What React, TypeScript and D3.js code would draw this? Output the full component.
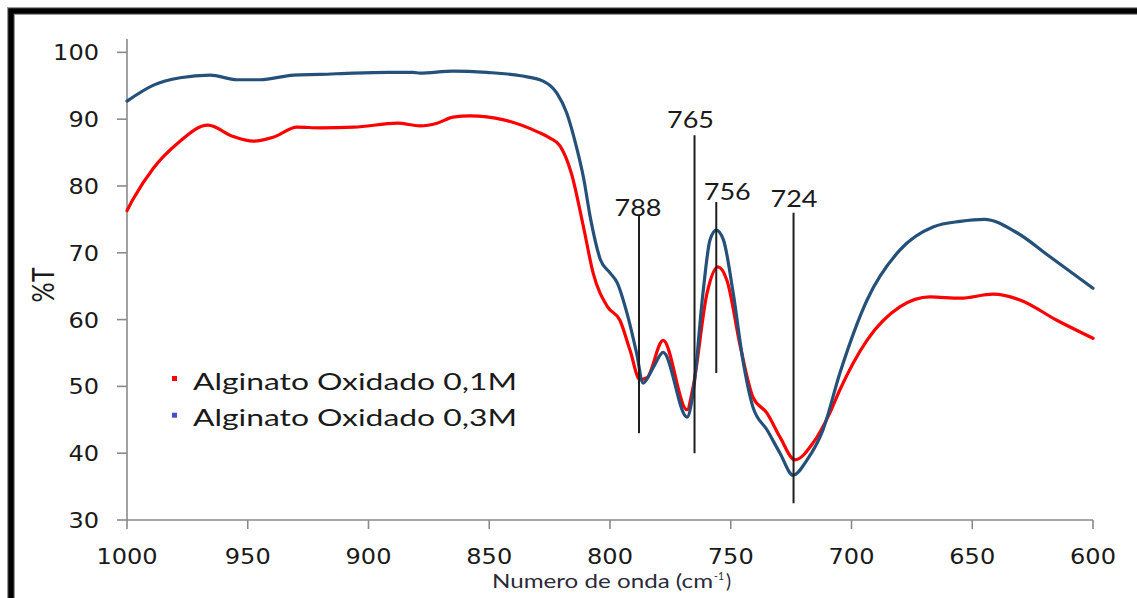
import React from "react";
import * as d3 from "d3";

// FTIR spectra of oxidised alginate (wavenumber in cm-1, transmittance in %T)
const wavenumbers01 = [
  1000, 997.5, 989, 979, 966.5, 956, 947.8, 939.5, 929.6, 920, 906, 888, 878.7, 871.6,
  865, 858, 844, 830, 825, 820.7, 816, 811, 807, 801, 795.9, 791.7, 787.6, 784.7, 778,
  768.1, 765.6, 759.8, 755.3, 751.6, 746, 740.8, 735, 729.6, 723.4, 716, 709, 704.8, 693.6,
  680, 667.5, 655, 641.4, 630, 615, 600,
];
const transmittance01 = [
  76.3, 78.0, 82.7, 86.4, 89.1, 87.4, 86.7, 87.3, 88.8, 88.7, 88.8, 89.4, 89.0, 89.4,
  90.3, 90.5, 89.9, 88.1, 87.2, 86.0, 81.9, 73.9, 67.0, 61.9, 59.9, 55.4, 51.0, 51.3, 56.9,
  46.5, 49.9, 64.0, 67.9, 65.9, 55.9, 48.4, 46.0, 42.4, 39.0, 41.5, 46.0, 49.5, 56.9,
  61.9, 63.4, 63.2, 63.8, 62.9, 59.9, 57.2,
];

const wavenumbers03 = [
  1000, 989, 978, 965.6, 954.5, 945, 931, 920, 906, 892, 881.6, 878.7, 865, 851, 837,
  827.7, 822, 818, 814, 811, 808, 804, 800, 797, 793, 789, 786.3, 782, 778,
  768.1, 765.6, 761.5, 758.6, 756, 753, 749, 745, 740.8, 735, 729.6, 724.2, 718.4, 711.8,
  704.8, 693.6, 680, 666, 655, 645, 631.5, 617.8, 600,
];
const transmittance03 = [
  92.7, 95.1, 96.2, 96.6, 95.9, 95.9, 96.6, 96.7, 96.9, 97.0, 97.0, 96.9, 97.2, 97.0, 96.5,
  95.7, 93.9, 91.0, 86.0, 81.3, 75.0, 69.0, 67.0, 65.5, 61.0, 55.0, 50.5, 52.9, 55.1,
  45.4, 49.0, 64.0, 71.9, 73.4, 71.9, 64.0, 54.0, 46.9, 43.5, 40.0, 36.7, 39.0, 43.5,
  52.0, 62.9, 70.4, 73.9, 74.7, 75.0, 73.0, 69.4, 64.7,
];

const seriesNames = ["Alginato Oxidado 0,1M", "Alginato Oxidado 0,3M"];

// Marked absorption bands, with the %T span of each marker line
const peakLabels = ["788", "765", "756", "724"];
const peakWavenumbers = [788, 765, 756, 724];
const peakTop = [75.7, 87.6, 77.6, 76.0];
const peakBottom = [43.0, 40.0, 52.0, 32.5];

const xTickValues = [1000, 950, 900, 850, 800, 750, 700, 650, 600];
const yTickValues = [30, 40, 50, 60, 70, 80, 90, 100];

const W = 1137;
const H = 598;

const lineColors = ["#ff0000", "#24507a"];
const legendMarkerColors = ["#ff0000", "#4650c8"];
const axisColor = "#8a8a8a";
const textColor = "#1a1a1a";

// horizontal / vertical nudges of peak labels relative to their marker lines
const peakLabelDx = [-1, -4, 11, 0.5];
const peakLabelDy = [1, -7, -2, -6];

export default function App() {
  const x = d3.scaleLinear().domain([1000, 600]).range([127, 1093]);
  const y = d3.scaleLinear().domain([30, 102]).range([520, 39]);

  const line = d3
    .line<[number, number]>()
    .x((d) => x(d[0]))
    .y((d) => y(d[1]))
    .curve(d3.curveMonotoneX);

  const series = [
    d3.zip(wavenumbers01, transmittance01) as [number, number][],
    d3.zip(wavenumbers03, transmittance03) as [number, number][],
  ];

  const tickFont = "'DejaVu Sans', Verdana, sans-serif";
  const labelFont = "Lato, 'Open Sans', sans-serif";

  return (
    <svg
      width={W}
      height={H}
      viewBox={`0 0 ${W} ${H}`}
      style={{ position: "absolute", left: 0, top: 0, background: "#fff" }}
    >
      <rect x={0} y={0} width={W} height={H} fill="#fff" />
      {/* heavy frame around the chart */}
      <rect x={11} y={11} width={W + 40} height={H + 40} fill="none" stroke="#9a9a9a" strokeWidth={8} />
      <rect x={11} y={11} width={W + 40} height={H + 40} fill="none" stroke="#000" strokeWidth={5.5} />

      {/* axes */}
      <g stroke={axisColor} strokeWidth={1.6} fill="none">
        <line x1={x(1000)} x2={x(1000)} y1={y(102)} y2={y(30)} />
        <line x1={x(1000)} x2={x(600)} y1={y(30)} y2={y(30)} />
        {yTickValues.map((t) => (
          <line key={"yt" + t} x1={x(1000) - 10} x2={x(1000)} y1={y(t)} y2={y(t)} />
        ))}
        {xTickValues.map((t) => (
          <line key={"xt" + t} x1={x(t)} x2={x(t)} y1={y(30)} y2={y(30) + 9} />
        ))}
      </g>

      {yTickValues.map((t) => {
        const s = String(t);
        return (
          <text
            key={"yl" + t}
            x={99}
            y={y(t) + 8}
            textAnchor="end"
            fontFamily={tickFont}
            fontSize={21}
            fill={textColor}
            textLength={s.length * 15.3}
            lengthAdjust="spacingAndGlyphs"
          >
            {s}
          </text>
        );
      })}
      {xTickValues.map((t) => {
        const s = String(t);
        return (
          <text
            key={"xl" + t}
            x={x(t)}
            y={564}
            textAnchor="middle"
            fontFamily={tickFont}
            fontSize={21}
            fill={textColor}
            textLength={s.length * 15.3}
            lengthAdjust="spacingAndGlyphs"
          >
            {s}
          </text>
        );
      })}

      {/* axis titles */}
      <text
        x={492}
        y={588}
        fontFamily={labelFont}
        fontSize={19}
        fill="#2a2a3a"
        textLength={221}
        lengthAdjust="spacingAndGlyphs"
      >
        Numero de onda (cm
      </text>
      <text x={714} y={580} fontFamily={labelFont} fontSize={12} fill="#2a2a3a" textLength={10} lengthAdjust="spacingAndGlyphs">
        -1
      </text>
      <text x={726} y={588} fontFamily={labelFont} fontSize={19} fill="#2a2a3a">
        )
      </text>
      <g transform="translate(54,285) scale(1.25,1) rotate(-90)">
        <text
          x={0}
          y={0}
          textAnchor="middle"
          fontFamily={labelFont}
          fontSize={24}
          fill={textColor}
          textLength={35}
          lengthAdjust="spacingAndGlyphs"
        >
          %T
        </text>
      </g>

      {/* spectra */}
      {series.map((s, i) => (
        <path
          key={"s" + i}
          d={line(s) ?? ""}
          fill="none"
          stroke={lineColors[i]}
          strokeWidth={3.2}
          strokeLinejoin="round"
          strokeLinecap="round"
        />
      ))}

      {/* band markers */}
      {peakWavenumbers.map((w, i) => (
        <g key={"p" + i}>
          <line x1={x(w)} x2={x(w)} y1={y(peakTop[i])} y2={y(peakBottom[i])} stroke="#1e1e1e" strokeWidth={2} />
          <text
            x={x(w) + peakLabelDx[i]}
            y={y(peakTop[i]) + peakLabelDy[i]}
            textAnchor="middle"
            fontFamily={labelFont}
            fontSize={23}
            fill={textColor}
            textLength={47}
            lengthAdjust="spacingAndGlyphs"
          >
            {peakLabels[i]}
          </text>
        </g>
      ))}

      {/* legend */}
      {seriesNames.map((name, i) => (
        <g key={"lg" + i}>
          <rect x={172} y={376 + i * 36.7} width={5} height={5} fill={legendMarkerColors[i]} />
          <text
            x={193}
            y={389.5 + i * 36.7}
            fontFamily={labelFont}
            fontSize={23}
            fill={textColor}
            textLength={324}
            lengthAdjust="spacingAndGlyphs"
          >
            {name}
          </text>
        </g>
      ))}
    </svg>
  );
}
